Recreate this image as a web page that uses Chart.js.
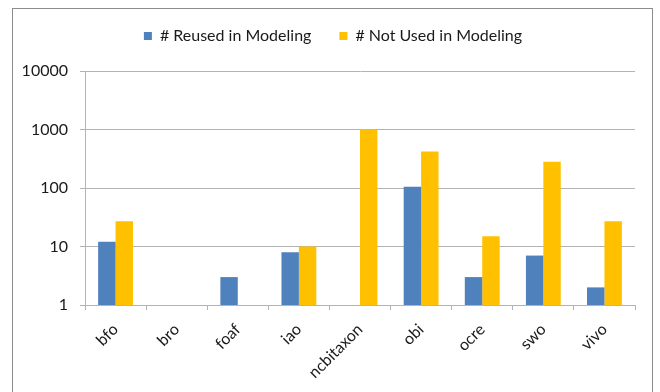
<!DOCTYPE html>
<html>
<head>
<meta charset="utf-8">
<script src="https://cdn.jsdelivr.net/npm/chart.js@4.4.1/dist/chart.umd.min.js"></script>
<style>
  html, body { margin: 0; padding: 0; background: #ffffff; }
  #wrap { width: 660px; height: 392px; position: relative; }
</style>
</head>
<body>
<div id="wrap"><canvas id="chart" width="660" height="392"></canvas></div>
<script>
// Ontologies and term counts (log scale)
const categories = ['bfo', 'bro', 'foaf', 'iao', 'ncbitaxon', 'obi', 'ocre', 'swo', 'vivo'];
const reusedInModeling = [12, null, 3, 8, null, 105, 3, 7, 2];
const notUsedInModeling = [27, null, null, 10, 1000, 420, 15, 280, 27];
const yTickValues = [1, 10, 100, 1000, 10000];

const GRID = '#b3b3b3';
const FONT = 'Lato, "Liberation Sans", sans-serif';

// Outer frame around the whole chart
const framePlugin = {
  id: 'frame',
  beforeDraw(chart) {
    const ctx = chart.ctx;
    ctx.save();
    ctx.fillStyle = '#ffffff';
    ctx.fillRect(0, 0, chart.width, chart.height);
    ctx.strokeStyle = '#8c8c8c';
    ctx.lineWidth = 1;
    ctx.strokeRect(12.5, 8.5, 640, 420);
    ctx.restore();
  }
};

// Fixed legend band height so the plot starts at a set offset
const legendHeight = {
  id: 'legendHeight',
  beforeLayout(chart) {
    const lg = chart.legend;
    if (lg && !lg._fixedFit) {
      const orig = lg.fit;
      lg.fit = function () { orig.call(this); this.height = 71; };
      lg._fixedFit = true;
    }
  }
};

new Chart(document.getElementById('chart'), {
  type: 'bar',
  data: {
    labels: categories,
    datasets: [
      { label: '# Reused in Modeling', data: reusedInModeling, backgroundColor: '#4F81BD', yAxisID: 'y' },
      { label: '# Not Used in Modeling', data: notUsedInModeling, backgroundColor: '#FFC000', yAxisID: 'y' }
    ]
  },
  options: {
    responsive: false,
    animation: false,
    devicePixelRatio: 1,
    layout: { padding: { left: 13, right: 7, top: 0, bottom: 0 } },
    datasets: { bar: { barPercentage: 1, categoryPercentage: 0.57 } },
    plugins: {
      legend: {
        position: 'top',
        align: 'center',
        labels: {
          boxWidth: 8,
          boxHeight: 8,
          padding: 28,
          color: '#1a1a1a',
          font: { family: FONT, size: 16 }
        }
      },
      tooltip: { enabled: false }
    },
    scales: {
      x: {
        offset: true,
        grid: { offset: true, drawOnChartArea: false, drawTicks: true, tickLength: 5, color: GRID },
        border: { display: true, color: GRID },
        ticks: {
          autoSkip: false,
          minRotation: 45,
          maxRotation: 45,
          padding: 10,
          color: '#1a1a1a',
          font: { family: FONT, size: 16 }
        },
        afterFit(scale) { scale.height = 87; }
      },
      y: {
        type: 'logarithmic',
        min: 1,
        max: 10000,
        afterBuildTicks(scale) { scale.ticks = yTickValues.map(v => ({ value: v })); },
        grid: { color: GRID, tickLength: 5, drawTicks: true },
        border: { display: true, color: GRID },
        ticks: {
          padding: 12,
          color: '#1a1a1a',
          font: { family: FONT, size: 16 },
          callback: v => String(v)
        },
        afterFit(scale) { scale.width = 72; }
      },
      yRight: {
        type: 'linear',
        position: 'right',
        display: true,
        grid: { display: false },
        border: { display: false },
        ticks: { display: false },
        afterFit(scale) { scale.width = 18; }
      }
    }
  },
  plugins: [framePlugin, legendHeight]
});
</script>
</body>
</html>
